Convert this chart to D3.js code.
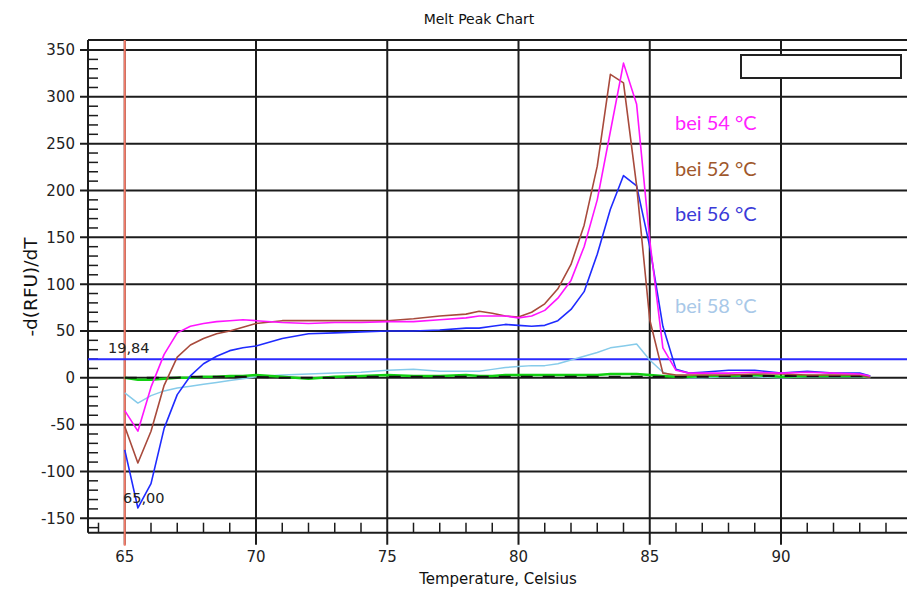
<!DOCTYPE html>
<html>
<head>
<meta charset="utf-8">
<script src="https://cdn.jsdelivr.net/npm/d3@7"></script>
<style>
  html, body { margin: 0; padding: 0; background: #fff; }
  svg { display: block; }
</style>
</head>
<body>
<svg id="chart" width="907" height="592"></svg>
<script>
// Melt temperatures (°C) shared by all traces
const temps = [65, 65.5, 66, 66.5, 67, 67.5, 68, 68.5, 69, 69.5, 70,
  71, 72, 73, 74, 75, 76, 77, 78,
  78.5, 79, 79.5, 80, 80.5, 81, 81.5, 82, 82.5, 83, 83.5, 84, 84.5, 85, 85.5, 86, 86.5, 87,
  88, 89, 90, 91, 92, 93, 93.4];

// -d(RFU)/dT per annealing temperature
const bei54 = [-35, -57, -10, 25, 48, 55, 58, 60, 61, 62, 61,
  59, 58, 59, 59, 60, 60, 62, 64,
  66, 66, 66, 64, 66, 72, 85, 104, 140, 190, 263, 336, 292, 147, 32, 8, 5, 5,
  5, 6, 5, 6, 5, 4, 2];
const bei52 = [-52, -91, -57, -8, 22, 35, 42, 47, 50, 54, 58,
  61, 61, 61, 61, 61, 63, 66, 68,
  71, 69, 66, 65, 70, 79, 95, 121, 163, 226, 324, 315, 205, 62, 5, 3, 3, 3,
  3, 4, 4, 3, 3, 3, 0];
const bei56 = [-77, -139, -113, -54, -18, 2, 15, 23, 29, 32, 34,
  42, 47, 48, 49, 50, 50, 51, 53,
  53, 55, 57, 56, 55, 56, 61, 73, 92, 132, 180, 216, 205, 140, 55, 9, 5, 6,
  8, 8, 5, 7, 5, 5, 2];
const bei58 = [-16, -27, -19, -14, -11, -9, -7, -5, -3, -1, 1,
  3, 4, 5, 6, 8, 9, 7, 7,
  7, 9, 11, 12, 13, 13, 15, 19, 23, 27, 32, 34, 36, 19, 6, 1, 0, 0,
  1, 1, 0, 1, 1, 1, 0];
const ntcGreen = [0, -2, -2, -1, 0, 0, 1, 1, 2, 2, 3,
  1, -1, 1, 2, 3, 2, 2, 3,
  2, 2, 3, 3, 3, 3, 3, 3, 3, 3, 4, 4, 4, 3, 2, 1, 1, 2,
  2, 3, 1, 2, 2, 2, 1];
const ntcBlack = [0, 0, 0, 0, 0, 1, 1, 1, 1, 1, 1,
  0, 0, 0, 1, 1, 1, 1, 1,
  1, 1, 1, 1, 1, 1, 1, 1, 1, 1, 1, 1, 1, 1, 1, 1, 1, 1,
  2, 2, 2, 2, 2, 2, 1];

// Axis ticks and markers
const xMajorTicks = [65, 70, 75, 80, 85, 90];
const yMajorTicks = [-150, -100, -50, 0, 50, 100, 150, 200, 250, 300, 350];
const threshold = 19.84;
const startMarker = 65.00;
const labelTexts = ["bei 54 °C", "bei 52 °C", "bei 56 °C", "bei 58 °C"];
const labelValues = [265, 216, 167, 69];

const svg = d3.select("#chart");
const plotLeft = 88, plotRight = 907, plotTop = 40, plotBottom = 532.7;

const x = d3.scaleLinear().domain([63.6, 94.8]).range([plotLeft, plotRight]);
const y = d3.scaleLinear().domain([-165.4, 360.7]).range([plotBottom, plotTop]);

const font = "'DejaVu Sans', 'Liberation Sans', sans-serif";
const gridColor = "#1c1c1c";

// Title
svg.append("text").attr("x", 479).attr("y", 24).attr("text-anchor", "middle")
  .attr("font-family", font).attr("font-size", 14).attr("fill", "#111")
  .text("Melt Peak Chart");

const g = svg.append("g");

// Horizontal grid lines with outward major ticks
g.selectAll(".hgrid").data(yMajorTicks).join("line")
  .attr("x1", plotLeft - 8).attr("x2", plotRight)
  .attr("y1", d => y(d)).attr("y2", d => y(d))
  .attr("stroke", gridColor).attr("stroke-width", 2);

// Vertical grid lines with outward major ticks
g.selectAll(".vgrid").data(xMajorTicks).join("line")
  .attr("x1", d => x(d)).attr("x2", d => x(d))
  .attr("y1", plotTop).attr("y2", plotBottom + 12)
  .attr("stroke", gridColor).attr("stroke-width", 2);

// Frame: top border, left axis, bottom axis
g.append("line").attr("x1", plotLeft).attr("x2", plotRight).attr("y1", plotTop).attr("y2", plotTop)
  .attr("stroke", gridColor).attr("stroke-width", 2);
g.append("line").attr("x1", plotLeft).attr("x2", plotLeft).attr("y1", plotTop).attr("y2", plotBottom)
  .attr("stroke", gridColor).attr("stroke-width", 2);
g.append("line").attr("x1", plotLeft).attr("x2", plotRight).attr("y1", plotBottom).attr("y2", plotBottom)
  .attr("stroke", gridColor).attr("stroke-width", 2);

// Minor ticks: every 10 units on y, every 1 °C on x
const yMinor = d3.range(-160, 360, 10).filter(v => v % 50 !== 0);
g.selectAll(".ymin").data(yMinor).join("line")
  .attr("x1", plotLeft).attr("x2", plotLeft + 10)
  .attr("y1", d => y(d)).attr("y2", d => y(d))
  .attr("stroke", gridColor).attr("stroke-width", 1.5);
const xMinor = d3.range(64, 95, 1).filter(v => v % 5 !== 0);
g.selectAll(".xmin").data(xMinor).join("line")
  .attr("x1", d => x(d)).attr("x2", d => x(d))
  .attr("y1", plotBottom - 10).attr("y2", plotBottom)
  .attr("stroke", gridColor).attr("stroke-width", 1.5);

// Tick labels
g.selectAll(".ylab").data(yMajorTicks).join("text")
  .attr("x", plotLeft - 13).attr("y", d => y(d)).attr("dy", "0.36em")
  .attr("text-anchor", "end").attr("font-family", font).attr("font-size", 15)
  .attr("fill", "#222").text(d => d);
g.selectAll(".xlab").data(xMajorTicks).join("text")
  .attr("x", d => x(d)).attr("y", 562)
  .attr("text-anchor", "middle").attr("font-family", font).attr("font-size", 15)
  .attr("fill", "#222").text(d => d);

// Axis titles
svg.append("text").attr("x", 498).attr("y", 584).attr("text-anchor", "middle")
  .attr("font-family", font).attr("font-size", 15).attr("fill", "#111")
  .text("Temperature, Celsius");
svg.append("text")
  .attr("transform", "translate(37, 287) rotate(-90)")
  .attr("text-anchor", "middle").attr("font-family", font).attr("font-size", 18.5)
  .attr("fill", "#111").text("-d(RFU)/dT");

// Start-temperature marker
g.append("line").attr("x1", x(startMarker)).attr("x2", x(startMarker))
  .attr("y1", plotTop).attr("y2", plotBottom + 13)
  .attr("stroke", "#f47c6a").attr("stroke-width", 2);

// Threshold line
g.append("line").attr("x1", plotLeft).attr("x2", plotRight)
  .attr("y1", y(threshold)).attr("y2", y(threshold))
  .attr("stroke", "#2a2aff").attr("stroke-width", 2);

// Empty legend box
g.append("rect").attr("x", 741).attr("y", 55).attr("width", 160).attr("height", 23)
  .attr("fill", "#fff").attr("stroke", "#222").attr("stroke-width", 2);

// Traces
const line = d3.line().x((d, i) => x(temps[i])).y(d => y(d));
const traces = [
  { values: bei58, color: "#86cbea", width: 1.5 },
  { values: ntcGreen, color: "#12d012", width: 2.5 },
  { values: ntcBlack, color: "#111", width: 2, dash: "12,10" },
  { values: bei56, color: "#1f2bff", width: 1.6 },
  { values: bei52, color: "#a84a3c", width: 1.6 },
  { values: bei54, color: "#ff14ff", width: 1.6 }
];
traces.forEach(t => {
  g.append("path").datum(t.values).attr("d", line)
    .attr("fill", "none").attr("stroke", t.color)
    .attr("stroke-width", t.width).attr("stroke-linejoin", "round")
    .attr("stroke-dasharray", t.dash || null);
});

// Value annotations
g.append("text").attr("x", 108).attr("y", y(threshold) - 6)
  .attr("font-family", font).attr("font-size", 14.5).attr("fill", "#222")
  .text(d3.format(".2f")(threshold).replace(".", ","));
g.append("text").attr("x", 123).attr("y", 503)
  .attr("font-family", font).attr("font-size", 14.5).attr("fill", "#222")
  .text(d3.format(".2f")(startMarker).replace(".", ","));

// Trace labels
const labelColors = ["#ff22ff", "#a0582c", "#3a3ad8", "#a8c8e8"];
g.selectAll(".slab").data(labelTexts).join("text")
  .attr("x", 675).attr("y", (d, i) => y(labelValues[i]))
  .attr("font-family", "Lato, 'Open Sans', sans-serif").attr("font-size", 20)
  .attr("fill", (d, i) => labelColors[i]).text(d => d);
</script>
</body>
</html>
